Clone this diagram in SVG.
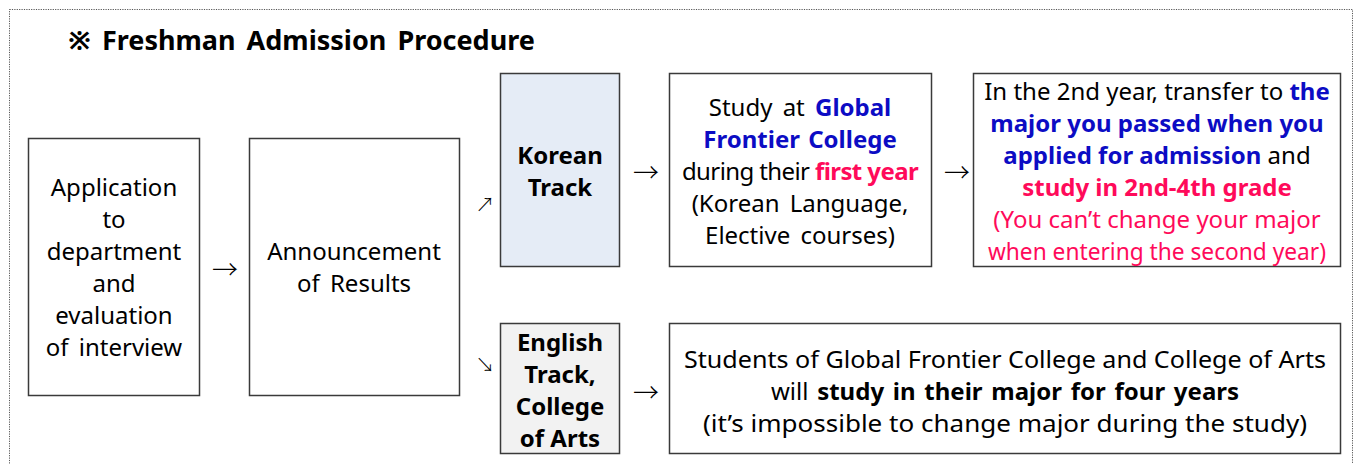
<svg xmlns="http://www.w3.org/2000/svg" width="1358" height="464" viewBox="0 0 1358 464">
<style>
.box{fill:#fff;stroke:#3a3a3a;stroke-width:1.5}
.t{font-family:"Noto Sans","Open Sans","Liberation Sans",sans-serif;font-size:24px;fill:#000;text-anchor:middle}
.b{font-weight:bold}
.blue{fill:#0c0cc4;font-weight:bold}
.red{fill:#ff0a5a;font-weight:bold}
.pink{fill:#ff0a5a}
.arr{font-family:"Noto Sans CJK KR","DejaVu Sans",sans-serif;font-weight:300;font-size:26px;fill:#000;text-anchor:middle}
.diag{font-family:"Noto Sans CJK KR","DejaVu Sans",sans-serif;font-weight:300;font-size:19px;fill:#000;text-anchor:middle}
</style>
<rect x="9.5" y="9.5" width="1343" height="480" fill="none" stroke="#555" stroke-width="1" stroke-dasharray="1.2 1.2"/>
<text x="68" y="50" font-family="Noto Sans,sans-serif" font-size="27" font-weight="bold" word-spacing="4">※ Freshman Admission Procedure</text>

<g id="application">
<rect class="box" x="28.5" y="138.5" width="171" height="257"/>
<text class="t"><tspan x="114" y="196">Application</tspan><tspan x="114" y="228">to</tspan><tspan x="114" y="260">department</tspan><tspan x="114" y="292">and</tspan><tspan x="114" y="324">evaluation</tspan><tspan x="114" y="356" word-spacing="4">of interview</tspan></text>
</g>
<g id="announcement">
<rect class="box" x="249.5" y="138.5" width="210" height="257"/>
<text class="t"><tspan x="354" y="260">Announcement</tspan><tspan x="354" y="292" word-spacing="4">of Results</tspan></text>
</g>
<g id="korean-track">
<rect class="box" x="500.5" y="73.5" width="119" height="193" style="fill:#e5ecf6"/>
<text class="t b"><tspan x="560" y="164">Korean</tspan><tspan x="560" y="196">Track</tspan></text>
</g>
<g id="first-year">
<rect class="box" x="669.5" y="73.5" width="262" height="193"/>
<text class="t" word-spacing="4"><tspan x="800" y="116">Study at <tspan class="blue">Global</tspan></tspan><tspan x="800" y="148" class="blue" word-spacing="2">Frontier College</tspan><tspan x="800" y="180" word-spacing="0" letter-spacing="-0.6">during their <tspan class="red">first year</tspan></tspan><tspan x="800" y="212">(Korean Language,</tspan><tspan x="800" y="244">Elective courses)</tspan></text>
</g>
<g id="second-year">
<rect class="box" x="973.5" y="73.5" width="367" height="193"/>
<text class="t"><tspan x="1157" y="100">In the 2nd year, transfer to <tspan class="blue">the</tspan></tspan><tspan x="1157" y="132" class="blue">major you passed when you</tspan><tspan x="1157" y="164"><tspan class="blue">applied for admission</tspan> and</tspan><tspan x="1157" y="196" class="red">study in 2nd-4th grade</tspan><tspan x="1157" y="228" class="pink">(You can’t change your major</tspan></text>
<text class="t pink" x="1157" y="260" textLength="338" lengthAdjust="spacingAndGlyphs">when entering the second year)</text>
</g>
<g id="english-track">
<rect class="box" x="500.5" y="323.5" width="119" height="130" style="fill:#f2f2f2"/>
<text class="t b"><tspan x="560" y="351">English</tspan><tspan x="560" y="383">Track,</tspan><tspan x="560" y="415">College</tspan><tspan x="560" y="447">of Arts</tspan></text>
</g>
<g id="four-years">
<rect class="box" x="669.5" y="323.5" width="671" height="130"/>
<text class="t" x="1005" y="368" textLength="642" lengthAdjust="spacingAndGlyphs">Students of Global Frontier College and College of Arts</text>
<text class="t" x="1005" y="400" word-spacing="2.5">will <tspan class="b">study in their major for four years</tspan></text>
<text class="t" x="1005" y="432" textLength="604" lengthAdjust="spacingAndGlyphs">(it’s impossible to change major during the study)</text>
</g>
<g id="connectors">
<text class="arr" x="225" y="279">→</text>
<text class="diag" x="485" y="212">↗</text>
<text class="diag" x="485" y="372">↘</text>
<text class="arr" x="646" y="182">→</text>
<text class="arr" x="957" y="182">→</text>
<text class="arr" x="646" y="402">→</text>
</g>
</svg>
